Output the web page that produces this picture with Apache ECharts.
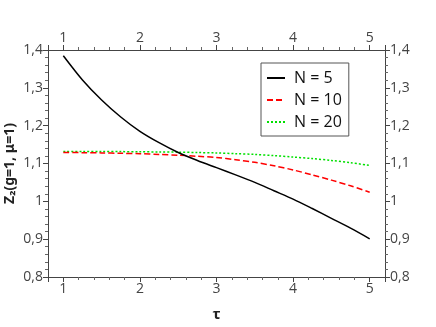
<!DOCTYPE html>
<html><head><meta charset="utf-8">
<script src="https://cdn.jsdelivr.net/npm/echarts@6/dist/echarts.min.js"></script>
<style>html,body{margin:0;padding:0;background:#fff}#c{width:436px;height:327px}</style>
</head><body><div id="c"></div>
<script>
const tau = [1, 1.25, 1.5, 1.75, 2, 2.25, 2.5, 2.75, 3, 3.25, 3.5, 3.75, 4, 4.25, 4.5, 4.75, 5];
const n5  = [1.385, 1.321, 1.268, 1.223, 1.185, 1.155, 1.129, 1.108, 1.089, 1.070, 1.050, 1.028, 1.006, 0.981, 0.955, 0.929, 0.901];
const n10 = [1.129, 1.1287, 1.128, 1.127, 1.126, 1.124, 1.122, 1.119, 1.116, 1.110, 1.103, 1.094, 1.083, 1.070, 1.056, 1.041, 1.024];
const n20 = [1.132, 1.132, 1.132, 1.1315, 1.131, 1.1305, 1.130, 1.129, 1.128, 1.126, 1.124, 1.121, 1.117, 1.113, 1.108, 1.102, 1.095];
const seriesNames = ['N = 5', 'N = 10', 'N = 20'];
const xTicks = [1, 2, 3, 4, 5];
const yTicks = [0.8, 0.9, 1.0, 1.1, 1.2, 1.3, 1.4];

const pairs = a => tau.map((t, i) => [t, a[i]]);
const fmtY = v => {
  const m = yTicks.find(t => Math.abs(t - v) < 1e-6);
  if (m === undefined) return '';
  return String(Math.round(m * 10) / 10).replace('.', ',');
};
const fmtX = v => xTicks.some(t => Math.abs(t - v) < 1e-6) ? String(Math.round(v)) : '';
const FONT = 'Open Sans';
const axisCommon = {
  type: 'value',
  axisLine: { show: true, onZero: false, lineStyle: { color: '#444', width: 1 } },
  axisTick: { show: true, inside: false, length: 5, lineStyle: { color: '#444' } },
  minorTick: { show: true, splitNumber: 5, length: 3, lineStyle: { color: '#666' } },
  splitLine: { show: false },
  minorSplitLine: { show: false },
  axisLabel: { color: '#444', fontFamily: FONT, fontSize: 14, margin: 5, showMinLabel: false, showMaxLabel: false }
};
const xAxis = (pos, extra) => Object.assign({}, axisCommon, {
  position: pos, min: 0.8, max: 5.2, nameMoveOverlap: false,
  axisLabel: Object.assign({}, axisCommon.axisLabel, { formatter: fmtX })
}, extra || {});
const yAxis = (pos, extra) => Object.assign({}, axisCommon, {
  position: pos, min: 0.8, max: 1.4, interval: 0.1, nameMoveOverlap: false,
  axisLabel: Object.assign({}, axisCommon.axisLabel, { formatter: fmtY, showMinLabel: true, showMaxLabel: true })
}, extra || {});

const chart = echarts.init(document.getElementById('c'), null, { renderer: 'canvas' });
chart.setOption({
  animation: false,
  backgroundColor: '#fff',
  grid: { left: 48, right: 51, top: 50, bottom: 50, containLabel: false, outerBoundsMode: 'none' },
  xAxis: [
    xAxis('bottom', { name: 'τ', nameLocation: 'middle', nameGap: 30,
      nameTextStyle: { fontFamily: FONT, fontWeight: 'bold', fontSize: 15, color: '#222' } }),
    xAxis('top')
  ],
  yAxis: [
    yAxis('left', { name: 'Z₂(g=1, μ=1)', nameLocation: 'middle', nameGap: 31,
      nameTextStyle: { fontFamily: 'Noto Sans', fontWeight: 'bold', fontSize: 14, color: '#222' } }),
    yAxis('right')
  ],
  legend: {
    orient: 'vertical', left: 261, top: 63,
    backgroundColor: '#fff',
    borderColor: '#555', borderWidth: 1, borderRadius: 0,
    padding: [7, 7, 6, 5],
    itemWidth: 18, itemHeight: 15, itemGap: 6,
    itemStyle: { color: 'rgba(0,0,0,0)', borderWidth: 0, opacity: 0 },
    textStyle: { fontFamily: FONT, fontSize: 16, color: '#111', padding: [0, 0, 0, 4] },
    data: seriesNames
  },
  series: [
    { name: seriesNames[0], type: 'line', data: pairs(n5), symbol: 'none', smooth: 0.3, xAxisIndex: 0, yAxisIndex: 0,
      lineStyle: { color: '#000', width: 1.5, type: 'solid' }, itemStyle: { color: '#000' }, z: 3 },
    { name: seriesNames[1], type: 'line', data: pairs(n10), symbol: 'none', smooth: 0.3, xAxisIndex: 0, yAxisIndex: 0,
      lineStyle: { color: '#ff0000', width: 1.5, type: [6, 3] }, itemStyle: { color: '#ff0000' }, z: 2 },
    { name: seriesNames[2], type: 'line', data: pairs(n20), symbol: 'none', smooth: 0.3, xAxisIndex: 0, yAxisIndex: 0,
      lineStyle: { color: '#00e000', width: 1.5, type: [2, 2] }, itemStyle: { color: '#00e000' }, z: 1 }
  ]
});
</script></body></html>
